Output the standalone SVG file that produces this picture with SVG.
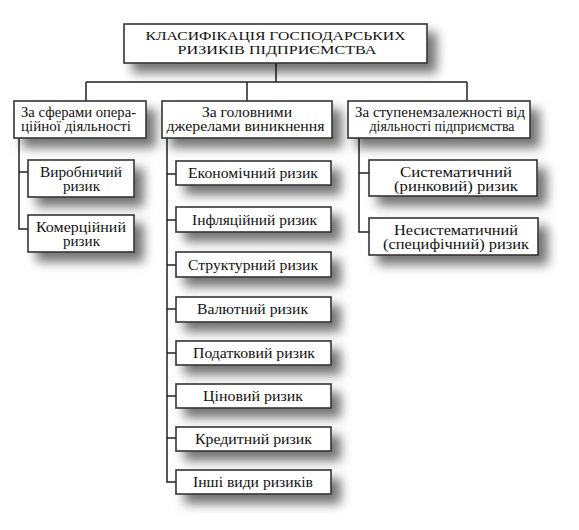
<svg xmlns="http://www.w3.org/2000/svg" width="579" height="530" viewBox="0 0 579 530">
<style>
.box{fill:#fff;stroke:#333;stroke-width:1.6}
.t{font-family:'Liberation Serif','DejaVu Serif','Times New Roman',serif;font-size:14px;fill:#111;text-anchor:middle}
.title{font-size:13px}
.conn{fill:none;stroke:#222;stroke-width:1.5}
.sh{filter:url(#shadow)}
</style>
<defs>
<filter id="shadow" x="-30%" y="-60%" width="160%" height="260%">
<feDropShadow dx="9" dy="9" stdDeviation="5.5" flood-color="#000" flood-opacity="0.55"/>
</filter>
</defs>
<rect width="579" height="530" fill="#fff"/>

<g id="connectors">
<path class="conn" d="M276,63 V82 M86,82 H467 M86,82 V101 M247,82 V101 M467,82 V101"/>
<path class="conn" d="M19,138 V229 H28 M19,172 H28"/>
<path class="conn" d="M167,138 V482 H176 M167,174 H176 M167,220 H176 M167,265 H176 M167,309 H176 M167,353 H176 M167,396 H176 M167,438 H176"/>
<path class="conn" d="M359,138 V232 H369 M359,173 H369"/>
</g>

<g id="title">
<rect class="box sh" x="124" y="24" width="303" height="39"/>
<text class="t title" x="275.5" y="39.5" textLength="260" lengthAdjust="spacingAndGlyphs">КЛАСИФІКАЦІЯ ГОСПОДАРСЬКИХ</text>
<text class="t title" x="277" y="53.5" textLength="199" lengthAdjust="spacingAndGlyphs">РИЗИКІВ ПІДПРИЄМСТВА</text>
</g>

<g id="cat1">
<rect class="box sh" x="14" y="101" width="132" height="37"/>
<text class="t" x="78.5" y="117" textLength="115" lengthAdjust="spacingAndGlyphs">За сферами опера-</text>
<text class="t" x="76" y="131" textLength="110" lengthAdjust="spacingAndGlyphs">ційної діяльності</text>
</g>
<g id="cat2">
<rect class="box sh" x="162" y="101" width="170" height="37"/>
<text class="t" x="247" y="117" textLength="90" lengthAdjust="spacingAndGlyphs">За головними</text>
<text class="t" x="245.5" y="131" textLength="158" lengthAdjust="spacingAndGlyphs">джерелами виникнення</text>
</g>
<g id="cat3">
<rect class="box sh" x="348" y="101" width="182" height="37"/>
<text class="t" x="440" y="117" textLength="170" lengthAdjust="spacingAndGlyphs">За ступенемзалежності від</text>
<text class="t" x="442" y="131" textLength="145" lengthAdjust="spacingAndGlyphs">діяльності підприємства</text>
</g>

<g id="vyrobnychyi">
<rect class="box sh" x="28" y="160" width="106" height="37"/>
<text class="t" x="81" y="176.5" textLength="82" lengthAdjust="spacingAndGlyphs">Виробничий</text>
<text class="t" x="81.5" y="190.5" textLength="37" lengthAdjust="spacingAndGlyphs">ризик</text>
</g>
<g id="komertsiinyi">
<rect class="box sh" x="28" y="215" width="106" height="37"/>
<text class="t" x="81" y="232" textLength="90" lengthAdjust="spacingAndGlyphs">Комерційний</text>
<text class="t" x="81.5" y="246" textLength="37" lengthAdjust="spacingAndGlyphs">ризик</text>
</g>

<g id="ekonomichnyi">
<rect class="box sh" x="176" y="161" width="155" height="24"/>
<text class="t" x="253" y="178" textLength="130" lengthAdjust="spacingAndGlyphs">Економічний ризик</text>
</g>
<g id="infliatsiinyi">
<rect class="box sh" x="176" y="207" width="155" height="25"/>
<text class="t" x="254.5" y="224.5" textLength="125" lengthAdjust="spacingAndGlyphs">Інфляційний ризик</text>
</g>
<g id="strukturnyi">
<rect class="box sh" x="176" y="252" width="155" height="25"/>
<text class="t" x="253" y="269.5" textLength="130" lengthAdjust="spacingAndGlyphs">Структурний ризик</text>
</g>
<g id="valiutnyi">
<rect class="box sh" x="176" y="297" width="155" height="25"/>
<text class="t" x="252.5" y="314" textLength="111" lengthAdjust="spacingAndGlyphs">Валютний ризик</text>
</g>
<g id="podatkovyi">
<rect class="box sh" x="176" y="341" width="155" height="24"/>
<text class="t" x="254" y="358" textLength="122" lengthAdjust="spacingAndGlyphs">Податковий ризик</text>
</g>
<g id="tsinovyi">
<rect class="box sh" x="176" y="384" width="155" height="24"/>
<text class="t" x="253" y="401" textLength="100" lengthAdjust="spacingAndGlyphs">Ціновий ризик</text>
</g>
<g id="kredytnyi">
<rect class="box sh" x="176" y="427" width="155" height="24"/>
<text class="t" x="253.5" y="444" textLength="117" lengthAdjust="spacingAndGlyphs">Кредитний ризик</text>
</g>
<g id="inshi">
<rect class="box sh" x="176" y="470" width="155" height="24"/>
<text class="t" x="253" y="487" textLength="120" lengthAdjust="spacingAndGlyphs">Інші види ризиків</text>
</g>

<g id="systematychnyi">
<rect class="box sh" x="369" y="160" width="168" height="36"/>
<text class="t" x="456" y="176.5" textLength="112" lengthAdjust="spacingAndGlyphs">Систематичний</text>
<text class="t" x="456" y="190.5" textLength="124" lengthAdjust="spacingAndGlyphs">(ринковий) ризик</text>
</g>
<g id="nesystematychnyi">
<rect class="box sh" x="369" y="218" width="169" height="37"/>
<text class="t" x="456" y="234.5" textLength="124" lengthAdjust="spacingAndGlyphs">Несистематичний</text>
<text class="t" x="456" y="248.5" textLength="146" lengthAdjust="spacingAndGlyphs">(специфічний) ризик</text>
</g>
</svg>
